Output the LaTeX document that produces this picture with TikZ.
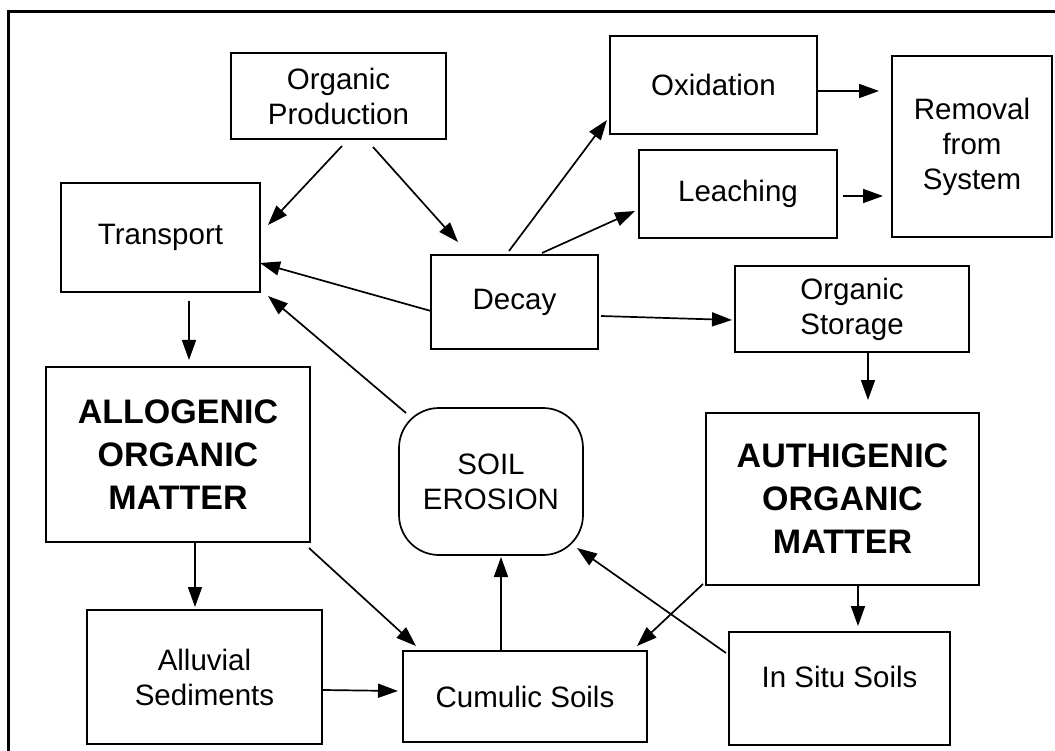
\documentclass[tikz,border=0pt]{standalone}
\usepackage{fontspec}
\setmainfont{Liberation Sans}
\usetikzlibrary{arrows.meta}
\begin{document}
\begin{tikzpicture}[x=1pt,y=-1pt,
  box/.style={draw, line width=1.7pt, inner sep=0pt, align=center,
    font=\fontsize{29.5}{35}\selectfont},
  bigbox/.style={box, font=\bfseries\fontsize{34}{43}\selectfont},
  arr/.style={line width=1.7pt, -{Triangle[length=20pt,width=14pt]}}]
\useasboundingbox (0,0) rectangle (1055,751);
\draw[line width=3pt] (1060,12) -- (8,12) -- (8,760);
% nodes
\node[box, minimum width=215pt, minimum height=86pt] (op) at (338.5,96) {Organic\\Production};
\node[box, minimum width=199pt, minimum height=109pt] (tr) at (160.5,237.5) {Transport};
\node[box, minimum width=167pt, minimum height=94pt] (dc) at (514.5,302) {Decay};
\node[box, minimum width=207pt, minimum height=98pt] (ox) at (713.5,85) {Oxidation};
\node[box, minimum width=198pt, minimum height=88pt] (le) at (738,194) {Leaching};
\node[box, minimum width=160pt, minimum height=181pt] (rm) at (972,146.5) {Removal\\from\\System};
\node[box, minimum width=234pt, minimum height=86pt] (os) at (852,309) {Organic\\Storage};
\node[bigbox, minimum width=264pt, minimum height=175pt] (al) at (178,454.5) {ALLOGENIC\\ORGANIC\\MATTER};
\node[box, rounded corners=40pt, minimum width=184pt, minimum height=147pt] (se) at (491,481.5) {SOIL\\EROSION};
\node[bigbox, minimum width=273pt, minimum height=172pt] (au) at (842.5,499) {AUTHIGENIC\\ORGANIC\\MATTER};
\node[box, minimum width=235pt, minimum height=134pt] (av) at (204.5,677) {Alluvial\\Sediments};
\node[box, minimum width=244pt, minimum height=91pt] (cu) at (525,696.5) {Cumulic Soils};
\node[box, minimum width=221pt, minimum height=113pt, text height=21pt, text depth=24pt] (is) at (839.5,688.5) {In Situ Soils};
% connectors
\draw[arr] ([shift={(3.5,50)}]op.center) -- ([shift={(107.5,-12.5)}]tr.center);
\draw[arr] ([shift={(34.5,51)}]op.center) -- ([shift={(-56.5,-60)}]dc.center);
\draw[arr] ([shift={(-5.5,-51)}]dc.center) -- ([shift={(-106.5,35)}]ox.center);
\draw[arr] ([shift={(27.5,-49)}]dc.center) -- ([shift={(-103,17)}]le.center);
\draw[arr] ([shift={(103.5,6)}]ox.center) -- ([shift={(-93,-55.5)}]rm.center);
\draw[arr] ([shift={(105,2)}]le.center) -- ([shift={(-89,49.5)}]rm.center);
\draw[arr] ([shift={(-83.5,9)}]dc.center) -- ([shift={(99.5,25.5)}]tr.center);
\draw[arr] ([shift={(86.5,14)}]dc.center) -- ([shift={(-120,11)}]os.center);
\draw[arr] ([shift={(28.5,63.5)}]tr.center) -- ([shift={(11,-94.5)}]al.center);
\draw[arr] ([shift={(-85,-68.5)}]se.center) -- ([shift={(107.5,58.5)}]tr.center);
\draw[arr] ([shift={(16,44)}]os.center) -- ([shift={(25.5,-99)}]au.center);
\draw[arr] ([shift={(17,88.5)}]al.center) -- ([shift={(-9.5,-70)}]av.center);
\draw[arr] ([shift={(131,93.5)}]al.center) -- ([shift={(-109,-50.5)}]cu.center);
\draw[arr] ([shift={(118.5,13)}]av.center) -- ([shift={(-127,-5.5)}]cu.center);
\draw[arr] ([shift={(-24,-45.5)}]cu.center) -- ([shift={(10,75.5)}]se.center);
\draw[arr] ([shift={(-139.5,85)}]au.center) -- ([shift={(112,-50.5)}]cu.center);
\draw[arr] ([shift={(-113.5,-35.5)}]is.center) -- ([shift={(86,66.5)}]se.center);
\draw[arr] ([shift={(15.5,86)}]au.center) -- ([shift={(18.5,-62.5)}]is.center);
\end{tikzpicture}
\end{document}
